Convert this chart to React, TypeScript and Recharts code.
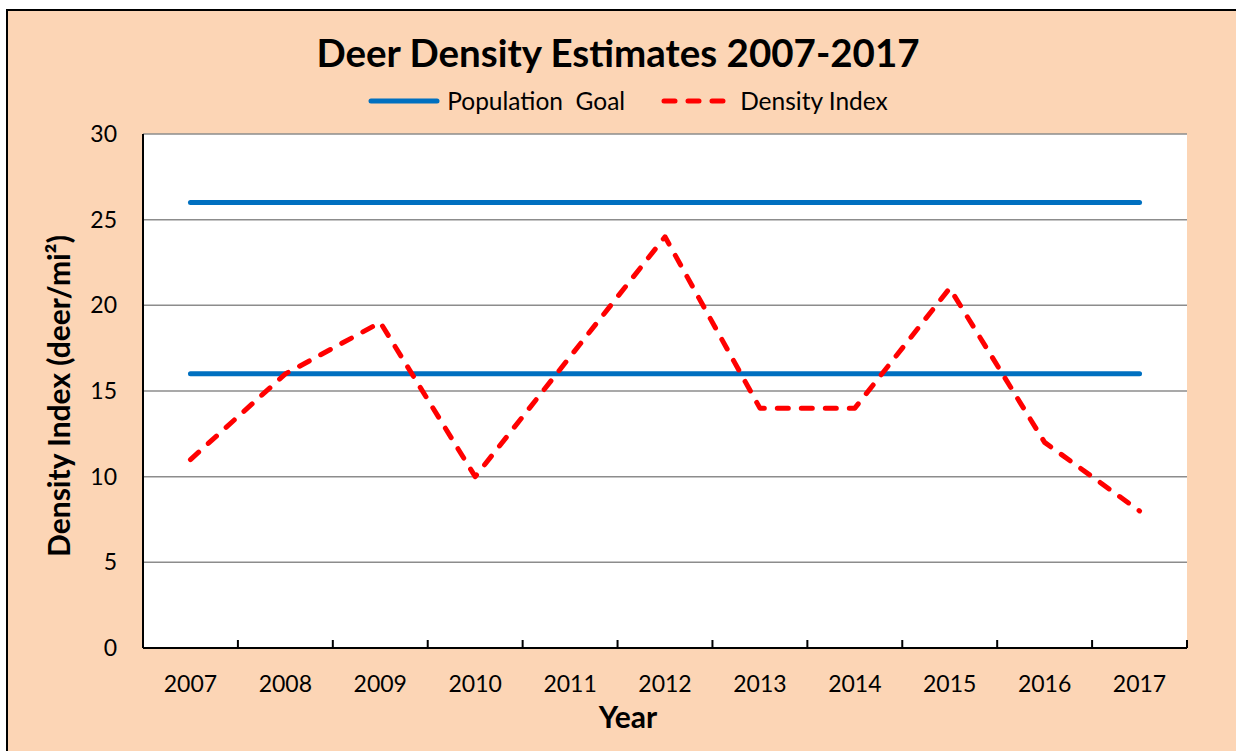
import React from 'react';
import {
  LineChart,
  Line,
  XAxis,
  YAxis,
  CartesianGrid,
  Legend,
  Label,
} from 'recharts';

// Survey years and the estimated deer density for each one (deer per square mile)
const years = [2007, 2008, 2009, 2010, 2011, 2012, 2013, 2014, 2015, 2016, 2017];
const densityIndex = [11, 16, 19, 10, 17, 24, 14, 14, 21, 12, 8];
// Population goal band: lower and upper bounds
const goalLower = [16, 16, 16, 16, 16, 16, 16, 16, 16, 16, 16];
const goalUpper = [26, 26, 26, 26, 26, 26, 26, 26, 26, 26, 26];
const yTicks = [0, 5, 10, 15, 20, 25, 30];
const legendOrder = ['Population  Goal', 'Density Index'];

const TITLE = 'Deer Density Estimates 2007-2017';
const FONT = 'Lato, "Open Sans", "DejaVu Sans", sans-serif';

const BLUE = '#0070C0';
const RED = '#FF0000';
const PEACH = '#FCD5B5';
const GRID = '#8C8C8C';

const data = years.map((year, i) => ({
  year,
  density: densityIndex[i],
  goalLow: goalLower[i],
  goalHigh: goalUpper[i],
}));

// Each year occupies one unit; the domain runs from the first to the last category edge
const xDomain = [years[0] - 0.5, years[years.length - 1] + 0.5];

const W = 1236;
const H = 751;
const MARGIN = { top: 134, right: 49, bottom: 43, left: 83 };
const Y_AXIS_W = 60;
const X_AXIS_H = 60;
const X_TICK_MARGIN = 28;
const PLOT_W = W - MARGIN.left - Y_AXIS_W - MARGIN.right;
const PLOT_H = H - MARGIN.top - MARGIN.bottom - X_AXIS_H;

function LegendContent(props: any) {
  const items = (props.payload || [])
    .filter((p: any) => p.type !== 'none')
    .sort((a: any, b: any) => legendOrder.indexOf(a.value) - legendOrder.indexOf(b.value));
  return (
    <div
      style={{
        display: 'flex',
        justifyContent: 'center',
        alignItems: 'center',
        gap: 36,
        fontFamily: FONT,
        fontSize: 24.5,
        color: '#000',
        whiteSpace: 'pre',
      }}
    >
      {items.map((item: any) => (
        <div key={item.value} style={{ display: 'flex', alignItems: 'center', gap: 7 }}>
          <svg width={72} height={10}>
            <line
              x1={3}
              y1={5}
              x2={69}
              y2={5}
              stroke={item.color}
              strokeWidth={5}
              strokeLinecap="round"
              strokeDasharray={item.payload?.strokeDasharray}
            />
          </svg>
          <span>{item.value}</span>
        </div>
      ))}
    </div>
  );
}

// Year label plus the small inward tick mark on the category edge to its left
// (and, for the last year, on its right edge as well).
function YearTick(props: any) {
  const { x, y, payload, index } = props;
  const half = PLOT_W / years.length / 2;
  const axisY = y - X_TICK_MARGIN;
  const mark = (mx: number) => (
    <line x1={mx} y1={axisY} x2={mx} y2={axisY - 8} stroke="#000" strokeWidth={2} />
  );
  return (
    <g>
      {mark(x - half)}
      {index === years.length - 1 && mark(x + half)}
      <text
        x={x}
        y={y}
        dy="0.71em"
        textAnchor="middle"
        fontFamily={FONT}
        fontSize={23}
        fill="#000"
      >
        {payload.value}
      </text>
    </g>
  );
}

function YTitle(props: any) {
  const vb = props.viewBox || {};
  const x = vb.x - 13;
  const y = vb.y + vb.height / 2 + 5;
  return (
    <text
      x={x}
      y={y}
      transform={`rotate(-90, ${x}, ${y})`}
      textAnchor="middle"
      fontFamily={FONT}
      fontWeight={700}
      fontSize={30}
      fill="#000"
    >
      Density Index (deer/mi²)
    </text>
  );
}

function XTitle(props: any) {
  const vb = props.viewBox || {};
  return (
    <text
      x={vb.x + vb.width / 2 - 37}
      y={vb.y + 80}
      textAnchor="middle"
      fontFamily={FONT}
      fontWeight={700}
      fontSize={30}
      fill="#000"
    >
      Year
    </text>
  );
}

export default function App() {
  return (
    <div style={{ position: 'absolute', left: 0, top: 0, width: W, height: H, background: '#fff', overflow: 'hidden' }}>
      <div
        style={{
          position: 'absolute',
          left: 6,
          top: 9,
          width: W,
          height: H,
          background: PEACH,
          borderLeft: '2px solid #000',
          borderTop: '2px solid #000',
        }}
      />
      <div
        style={{
          position: 'absolute',
          left: 0,
          top: 29,
          width: W,
          textAlign: 'center',
          fontFamily: FONT,
          fontWeight: 700,
          fontSize: 38.5,
          lineHeight: '46px',
          color: '#000',
        }}
      >
        {TITLE}
      </div>
      <div style={{ position: 'absolute', left: 0, top: 0 }}>
        <LineChart width={W} height={H} data={data} margin={MARGIN}>
          <CartesianGrid horizontal vertical={false} stroke={GRID} strokeWidth={1.5} fill="#fff" />
          <XAxis
            dataKey="year"
            type="number"
            domain={xDomain}
            ticks={years}
            interval={0}
            allowDataOverflow
            axisLine={{ stroke: '#000', strokeWidth: 2 }}
            tickLine={false}
            tickSize={0}
            tickMargin={X_TICK_MARGIN}
            height={X_AXIS_H}
            tick={<YearTick />}
          >
            <Label content={<XTitle />} />
          </XAxis>
          <YAxis
            type="number"
            domain={[0, 30]}
            ticks={yTicks}
            interval={0}
            width={Y_AXIS_W}
            axisLine={{ stroke: '#000', strokeWidth: 2 }}
            tickLine={false}
            tickSize={0}
            tickMargin={26}
            tick={{ fontFamily: FONT, fontSize: 23, fill: '#000' }}
          >
            <Label content={<YTitle />} />
          </YAxis>
          <Legend
            layout="horizontal"
            align="center"
            verticalAlign="middle"
            wrapperStyle={{ top: 86, left: 20, width: 1216 }}
            content={<LegendContent />}
          />
          <Line
            dataKey="goalLow"
            name="Population  Goal"
            stroke={BLUE}
            strokeWidth={5}
            strokeLinecap="round"
            dot={false}
            activeDot={false}
            isAnimationActive={false}
          />
          <Line
            dataKey="goalHigh"
            name="Population Goal (upper)"
            legendType="none"
            stroke={BLUE}
            strokeWidth={5}
            strokeLinecap="round"
            dot={false}
            activeDot={false}
            isAnimationActive={false}
          />
          <Line
            dataKey="density"
            name="Density Index"
            stroke={RED}
            strokeWidth={5}
            strokeDasharray="11 13"
            strokeLinecap="round"
            strokeLinejoin="round"
            dot={false}
            activeDot={false}
            isAnimationActive={false}
          />
        </LineChart>
      </div>
    </div>
  );
}
